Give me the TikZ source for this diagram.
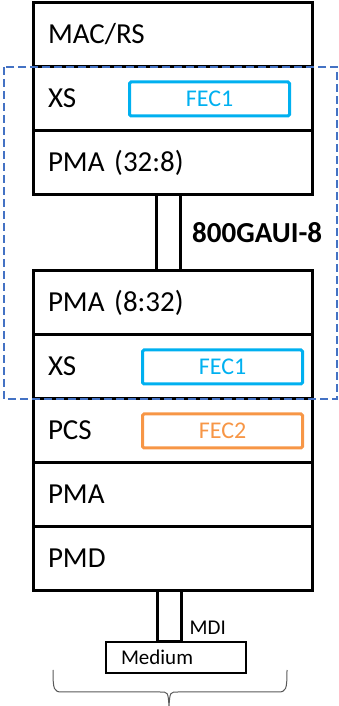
\documentclass[tikz,border=0pt]{standalone}
\usepackage{fontspec}
\setmainfont{Carlito}
\usetikzlibrary{positioning}
\definecolor{fecblue}{HTML}{00B0F0}
\definecolor{fecorange}{HTML}{F79646}
\definecolor{xsblue}{HTML}{4472C4}
\tikzset{
  layer/.style={draw, line width=3pt, outer sep=0pt, text width=249pt, inner xsep=15pt,
    minimum height=64pt, align=left, font=\fontsize{29}{34}\selectfont,
    text height=22pt, text depth=4pt},
  fecbox/.style={draw=#1, text=#1, line width=3pt, rounded corners=1.5pt,
    minimum width=160pt, minimum height=34pt, font=\fontsize{24}{28}\selectfont},
  link/.style={draw, line width=3pt, outer sep=0pt, minimum width=24pt, anchor=north},
  medbox/.style={draw, line width=2.5pt, outer sep=0pt, anchor=north, text width=110pt,
    inner xsep=15pt, minimum height=31pt, align=left, font=\fontsize{21}{25}\selectfont},
  group/.style={draw=xsblue, line width=2pt, dash pattern=on 8pt off 4pt},
}
\begin{document}
\begin{tikzpicture}[x=1pt, y=1pt]
\useasboundingbox (0,0) rectangle (339,706);
% Upper stack
\node[layer, anchor=north] (mac) at (172.5,703) {MAC/RS};
\node[layer, below=0pt of mac] (xs1) {XS};
\node[layer, below=0pt of xs1] (pma1) {PMA (32:8)};
\node[fecbox=fecblue] (fec1a) at ([xshift=37pt]xs1.center) {FEC1};
% 800GAUI-8
\node[link, minimum height=76pt] (gaui) at ([xshift=-4.5pt]pma1.south) {};
\node[right=12pt of gaui, inner sep=0pt, font=\fontsize{29}{34}\selectfont\bfseries] (gauilbl) {800GAUI-8};
% Lower stack
\node[layer, below=76pt of pma1] (pma2) {PMA (8:32)};
\foreach \name/\txt [remember=\name as \prev (initially pma2)] in {xs2/XS, pcs/PCS, pma3/PMA, pmd/PMD}
  \node[layer, below=0pt of \prev] (\name) {\txt};
\node[fecbox=fecblue] (fec1b) at ([xshift=50pt]xs2.center) {FEC1};
\node[fecbox=fecorange] (fec2) at ([xshift=50pt]pcs.center) {FEC2};
% Extender
\draw[group] ([xshift=-29pt]xs1.north west) rectangle ([xshift=25pt]xs2.south east);
% Medium
\node[link, minimum height=51pt] (mdi) at ([xshift=-3pt]pmd.south) {};
\node[medbox] (medium) at ([xshift=6.5pt]mdi.south) {Medium};
\node[anchor=base west, inner sep=0pt, font=\fontsize{21}{25}\selectfont] (mdilbl) at ([xshift=8pt, yshift=7pt]mdi.south east) {MDI};
% Brace
\draw[gray!70!black, line width=1pt]
  (53,36) .. controls (53,16) and (54,14) .. (62,14) -- (160,14) .. controls (168,14) .. (169,0)
  (287,36) .. controls (287,16) and (286,14) .. (278,14) -- (178,14) .. controls (170,14) .. (169,0);
\end{tikzpicture}
\end{document}
